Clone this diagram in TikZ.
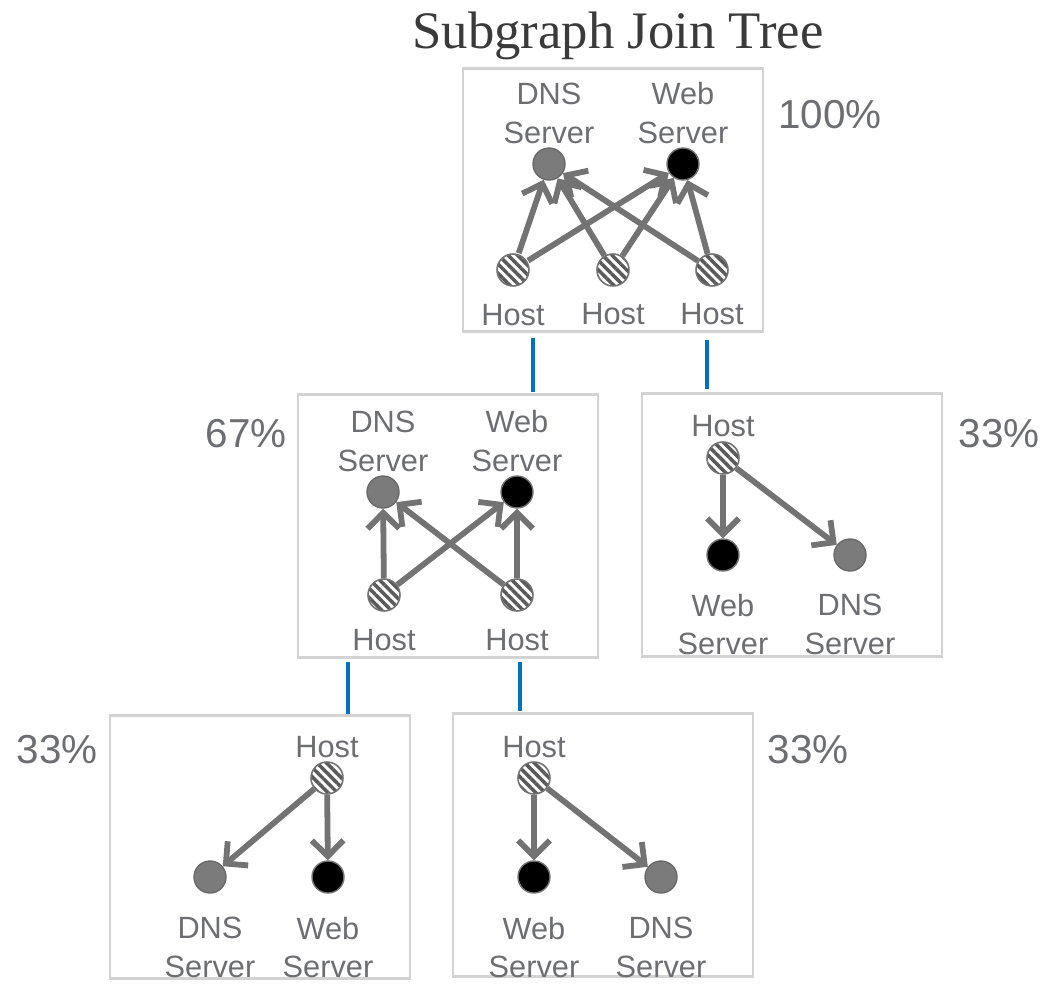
\documentclass[tikz,border=0pt]{standalone}
\usepackage{fontspec}
\setmainfont{Liberation Sans}
\newfontfamily\titlefont{Liberation Serif}
\usetikzlibrary{positioning,arrows.meta,patterns.meta}
\definecolor{txtgray}{HTML}{6D6E71}
\definecolor{arrgray}{HTML}{737373}
\definecolor{dnsgray}{HTML}{7B7B7B}
\definecolor{boxgray}{HTML}{D3D3D3}
\definecolor{treeblue}{HTML}{0070C0}
\definecolor{hatchgray}{HTML}{5A5A5A}
\definecolor{titlegray}{HTML}{3A3A3A}

\begin{document}
\begin{tikzpicture}[x=0.02cm, y=-0.02cm,
    sub/.style = {draw=boxgray, line width=1.6pt, fill=white, minimum width=6cm, minimum height=5.25cm},
    host/.style = {draw=arrgray, line width=0.9pt, circle, minimum size=0.64cm, inner sep=0pt, preaction={fill=white}, pattern={Lines[angle=-45,distance=3.8pt,line width=2pt]}, pattern color=hatchgray},
    dns/.style = {draw=dnsgray!85!black, line width=0.8pt, fill=dnsgray, circle, minimum size=0.64cm, inner sep=0pt},
    web/.style = {draw=arrgray, line width=0.8pt, fill=black, circle, minimum size=0.64cm, inner sep=0pt},
    lbl/.style = {text=txtgray, font=\fontsize{17.5}{22}\selectfont, align=center, inner sep=0pt},
    pct/.style = {text=txtgray, font=\fontsize{23}{27}\selectfont, anchor=base, inner sep=0pt},
    dep/.style = {draw=arrgray, line width=3.3pt, -{Straight Barb[length=9pt,width=18pt]}},
    treeline/.style = {draw=treeblue, line width=2.8pt}]
  \useasboundingbox (0,0) rectangle (1048,984);

  \node[text=titlegray, font=\titlefont\fontsize{30}{34}\selectfont, anchor=base, inner sep=0pt] (title) at (618,48) {Subgraph Join Tree};

  % subgraph boxes
  \node[sub] (g1) at (613,200) {};
  \node[sub] (g2) at (448,526) {};
  \node[sub] (g3) at (792,525) {};
  \node[sub] (g4) at (260,847) {};
  \node[sub] (g5) at (603,845) {};

  \node[pct] (p1) at (830,128) {100\%};
  \node[pct] (p2) at (246,447) {67\%};
  \node[pct] (p3) at (999,447) {33\%};
  \node[pct] (p4) at (57,763) {33\%};
  \node[pct] (p5) at (808,763) {33\%};

  % join tree links
  \coordinate (t1) at (533,338); \coordinate (b1) at (533,392);
  \coordinate (t2) at (707,340); \coordinate (b2) at (707,389);
  \coordinate (t3) at (348,662); \coordinate (b3) at (348,714);
  \coordinate (t4) at (520,662); \coordinate (b4) at (520,711);
  \draw[treeline] (t1) -- (b1);
  \draw[treeline] (t2) -- (b2);
  \draw[treeline] (t3) -- (b3);
  \draw[treeline] (t4) -- (b4);

  % 100%
  \node[dns] (d1) at (549,164) {};
  \node[web] (w1) at (683,164) {};
  \node[host] (h11) at (513,270) {};
  \node[host] (h12) at (613,270) {};
  \node[host] (h13) at (712,270) {};
  \node[lbl, above=2pt of d1] (ld1) {DNS\\Server};
  \node[lbl, above=2pt of w1] (lw1) {Web\\Server};
  \node[lbl, below=9pt of h11] (lh11) {Host};
  \node[lbl, below=9pt of h12] (lh12) {Host};
  \node[lbl, below=9pt of h13] (lh13) {Host};
  \draw[dep] (h11) -- (d1);
  \draw[dep] (h11) -- (w1);
  \draw[dep] (h12) -- (d1);
  \draw[dep] (h12) -- (w1);
  \draw[dep] (h13) -- (d1);
  \draw[dep] (h13) -- (w1);

  % 67%
  \node[dns] (d2) at (383,492) {};
  \node[web] (w2) at (517,492) {};
  \node[host] (h21) at (384,595) {};
  \node[host] (h22) at (517,595) {};
  \node[lbl, above=2pt of d2] (ld2) {DNS\\Server};
  \node[lbl, above=2pt of w2] (lw2) {Web\\Server};
  \node[lbl, below=10pt of h21] (lh21) {Host};
  \node[lbl, below=10pt of h22] (lh22) {Host};
  \draw[dep] (h21) -- (d2);
  \draw[dep] (h21) -- (w2);
  \draw[dep] (h22) -- (w2);
  \draw[dep] (h22) -- (d2);

  % 33% right
  \node[host] (h3) at (723,458) {};
  \node[web] (w3) at (723,555) {};
  \node[dns] (d3) at (850,555) {};
  \node[lbl, above=2.5pt of h3] (lh3) {Host};
  \node[lbl, below=12.5pt of w3] (lw3) {Web\\Server};
  \node[lbl, below=12.5pt of d3] (ld3) {DNS\\Server};
  \draw[dep] (h3) -- (w3);
  \draw[dep] (h3) -- (d3);

  % 33% bottom left
  \node[host] (h4) at (327,778) {};
  \node[dns] (d4) at (210,877) {};
  \node[web] (w4) at (328,877) {};
  \node[lbl, above=2pt of h4] (lh4) {Host};
  \node[lbl, below=13pt of d4] (ld4) {DNS\\Server};
  \node[lbl, below=13pt of w4] (lw4) {Web\\Server};
  \draw[dep] (h4) -- (d4);
  \draw[dep] (h4) -- (w4);

  % 33% bottom right
  \node[host] (h5) at (534,778) {};
  \node[web] (w5) at (534,877) {};
  \node[dns] (d5) at (661,877) {};
  \node[lbl, above=2pt of h5] (lh5) {Host};
  \node[lbl, below=13pt of w5] (lw5) {Web\\Server};
  \node[lbl, below=13pt of d5] (ld5) {DNS\\Server};
  \draw[dep] (h5) -- (w5);
  \draw[dep] (h5) -- (d5);
\end{tikzpicture}
\end{document}
